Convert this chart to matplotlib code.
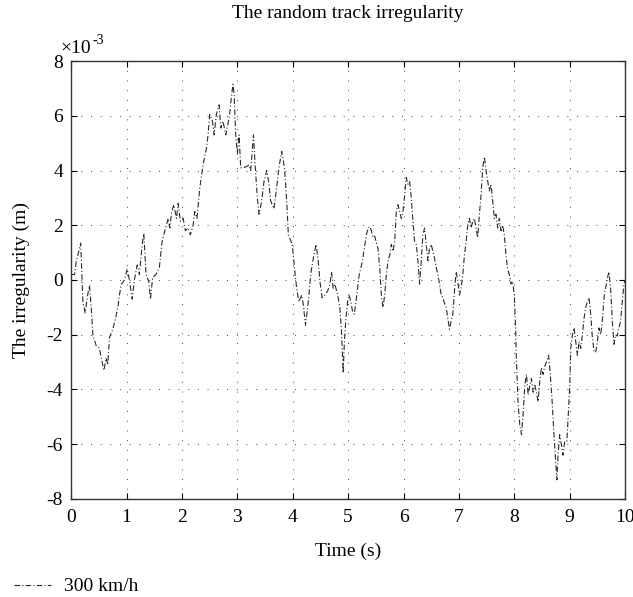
import matplotlib
matplotlib.use('Agg')
import matplotlib.pyplot as plt

plt.rcParams['font.family'] = ['Liberation Serif', 'DejaVu Serif']
plt.rcParams['axes.unicode_minus'] = False

# track irregularity samples, time in s, irregularity in 1e-3 m
time_s = [
    0.00, 0.06, 0.09, 0.13, 0.17, 0.21, 0.25, 0.30, 0.33, 0.36, 0.39, 0.45,
    0.51, 0.54, 0.59, 0.63, 0.66, 0.69, 0.75, 0.81, 0.84, 0.87, 0.90, 0.96,
    1.01, 1.05, 1.10, 1.14, 1.19, 1.23, 1.28, 1.31, 1.35, 1.40, 1.43, 1.47,
    1.53, 1.59, 1.64, 1.69, 1.75, 1.78, 1.81, 1.85, 1.90, 1.93, 1.97, 2.02,
    2.06, 2.11, 2.15, 2.20, 2.23, 2.27, 2.32, 2.38,
    2.44, 2.47, 2.50, 2.55, 2.58, 2.62, 2.67, 2.70, 2.74, 2.79, 2.82, 2.86,
    2.89, 2.92, 2.94, 2.97, 3.00, 3.03, 3.06, 3.11, 3.17, 3.21, 3.24, 3.29,
    3.32, 3.36, 3.39, 3.44, 3.48, 3.53, 3.57, 3.60, 3.66, 3.71, 3.75, 3.80,
    3.85, 3.89, 3.92, 3.99, 4.03, 4.07, 4.11, 4.16, 4.19, 4.23, 4.28, 4.33,
    4.38, 4.42, 4.46, 4.49, 4.53, 4.58, 4.63, 4.67, 4.70, 4.73, 4.76, 4.81,
    4.85, 4.88, 4.91,
    4.93, 4.96, 4.99, 5.02, 5.05, 5.08, 5.11, 5.14, 5.17, 5.20, 5.23, 5.26,
    5.29, 5.33, 5.36, 5.39, 5.42, 5.45, 5.48, 5.51, 5.54, 5.57, 5.60, 5.63,
    5.66, 5.69, 5.72, 5.75, 5.78, 5.81, 5.84, 5.87, 5.90, 5.93, 5.96, 5.99,
    6.02, 6.05, 6.08, 6.11, 6.14, 6.17, 6.20, 6.23, 6.26, 6.29, 6.32, 6.35,
    6.38, 6.41, 6.44, 6.47, 6.50, 6.53, 6.56, 6.59, 6.62, 6.65, 6.68, 6.71,
    6.74, 6.77, 6.80, 6.83, 6.86, 6.89, 6.92, 6.95, 6.98, 7.01, 7.04, 7.07,
    7.10, 7.13, 7.16, 7.19, 7.22, 7.25, 7.28, 7.31, 7.34, 7.37, 7.40, 7.43,
    7.46,
    7.50, 7.55, 7.58, 7.61, 7.64, 7.67, 7.70, 7.73, 7.76, 7.79, 7.82, 7.85,
    7.88, 7.91, 7.94, 7.97, 8.00, 8.02, 8.04, 8.07, 8.10, 8.13, 8.16, 8.19,
    8.22, 8.25, 8.28, 8.31, 8.34, 8.37, 8.40, 8.43, 8.46, 8.49, 8.52, 8.55,
    8.58, 8.62, 8.65, 8.68, 8.71, 8.74, 8.77, 8.79, 8.82, 8.85, 8.88, 8.91,
    8.95, 8.97, 9.00, 9.02, 9.05, 9.08, 9.11, 9.14, 9.17, 9.20, 9.23, 9.26,
    9.29, 9.32, 9.35, 9.38, 9.41, 9.44, 9.47, 9.50, 9.53, 9.56, 9.59, 9.62,
    9.65, 9.68, 9.71, 9.74, 9.77, 9.80, 9.83, 9.86, 9.89, 9.92, 9.95, 9.98,
    10.00,
]
irregularity = [
    0.2, 0.2, 0.7, 1.0, 1.35, -0.8, -1.2, -0.5, -0.2, -1.0, -2.0, -2.4,
    -2.5, -2.85, -3.3, -2.85, -3.1, -2.1, -1.8, -1.3, -1.0, -0.55, -0.17, 0.0,
    0.4, 0.0, -0.7, 0.0, 0.55, 0.2, 1.3, 1.7, 0.2, -0.05, -0.7, 0.1,
    0.2, 0.45, 1.4, 1.8, 2.25, 1.9, 2.45, 2.75, 2.25, 2.8, 2.15, 2.25,
    1.8, 1.9, 1.65, 2.0, 2.5, 2.25, 3.35, 4.2,
    4.8, 5.3, 6.05, 5.8, 5.3, 6.05, 6.4, 5.55, 5.8, 5.3, 5.6, 6.05,
    6.65, 7.15, 6.8, 5.3, 4.6, 5.3, 4.1, 4.1, 4.15, 4.2, 4.0, 5.3,
    4.2, 3.0, 2.4, 2.9, 3.6, 4.0, 3.5, 2.9, 2.6, 3.4, 4.1, 4.7,
    4.1, 2.9, 1.65, 1.3, 0.45, -0.3, -0.8, -0.55, -0.9, -1.65, -0.8, 0.3,
    0.9, 1.3, 0.7, -0.05, -0.65, -0.55, -0.4, -0.15, 0.3, -0.3, -0.15, -0.55,
    -1.0, -1.9, -3.4,
    -2.35, -1.4, -0.8, -0.55, -0.8, -1.15, -1.25, -0.8, -0.3, 0.2, 0.45, 0.7,
    1.15, 1.65, 1.9, 1.95, 1.8, 1.55, 1.6, 1.35, 1.15, 0.45, -0.55, -1.0,
    -0.55, 0.2, 0.7, 0.9, 1.3, 1.05, 1.4, 2.5, 2.75, 2.5, 2.25, 2.5,
    3.1, 3.75, 3.5, 3.6, 3.0, 2.15, 1.4, 1.3, 0.7, -0.15, 0.7, 1.65,
    1.9, 1.3, 0.7, 1.15, 1.3, 1.05, 0.8, 0.45, 0.2, -0.15, -0.55, -0.65,
    -0.85, -1.0, -1.4, -1.8, -1.5, -1.25, -0.4, 0.3, -0.05, -0.55, -0.3, 0.2,
    0.9, 1.4, 2.0, 2.25, 1.9, 2.15, 2.25, 1.9, 1.55, 2.4, 3.1, 4.1,
    4.5,
    3.85, 3.25, 3.5, 2.9, 2.25, 2.4, 1.9, 2.25, 1.8, 2.0, 1.65, 0.9,
    0.4, 0.2, -0.15, -0.05, -0.55, -1.5, -3.0, -4.55, -5.3, -5.65, -4.9, -3.85,
    -3.45, -4.2, -3.85, -3.6, -4.1, -3.85, -4.1, -4.45, -3.7, -3.2, -3.45, -3.15,
    -3.0, -2.75, -3.45, -4.3, -5.4, -6.4, -7.3, -6.4, -5.65, -6.0, -6.4, -5.9,
    -5.9, -5.15, -3.95, -2.5, -2.0, -1.75, -2.25, -2.75, -2.25, -2.5, -2.0, -1.4,
    -1.0, -0.8, -0.65, -1.25, -2.1, -2.6, -2.65, -2.25, -1.75, -2.0, -1.5, -0.65,
    -0.3, 0.05, 0.3, -0.3, -1.5, -2.35, -2.0, -2.05, -1.75, -1.5, -0.8, -0.15,
    0.0,
]

x_ticks = list(range(0, 11))
y_ticks = list(range(-8, 9, 2))

fig = plt.figure(figsize=(6.33, 5.97), dpi=100)
ax = fig.add_axes([0.1126, 0.1642, 0.8748, 0.7336])

line, = ax.plot(time_s, irregularity, color='#2a2a2a',
                linestyle=(0, (5, 2, 1, 2)), linewidth=0.8, label='300 km/h')

ax.set_xlim(0, 10)
ax.set_ylim(-8, 8)
ax.set_xticks(x_ticks)
ax.set_yticks(y_ticks)
ax.tick_params(direction='in', top=True, right=True, length=4,
               labelsize=14)
ax.tick_params(axis='x', pad=7)
ax.tick_params(axis='y', pad=6)
ax.grid(True, color='#444444', linestyle=(0, (1, 9)), linewidth=0.7)
for sp in ax.spines.values():
    sp.set_linewidth(1.0)
    sp.set_color('#333333')

ax.set_title('The random track irregularity', fontsize=14, pad=31)
ax.set_xlabel('Time (s)', fontsize=14, labelpad=12)
ax.set_ylabel('The irregularity (m)', fontsize=14, labelpad=12)

# scale factor above the y axis
base = ax.text(-0.02, 1.010, '×10', transform=ax.transAxes, fontsize=14,
               ha='left', va='bottom')
ax.annotate('-3', xy=(1, 0.55), xycoords=base, xytext=(1, 0),
            textcoords='offset points', fontsize=10, ha='left', va='bottom')

fig.legend(handles=[line], loc='lower left', bbox_to_anchor=(0.0, -0.02),
           frameon=False, fontsize=14, handlelength=1.9, handletextpad=0.7,
           borderaxespad=0.3)

fig.savefig('out.png', dpi=100)
